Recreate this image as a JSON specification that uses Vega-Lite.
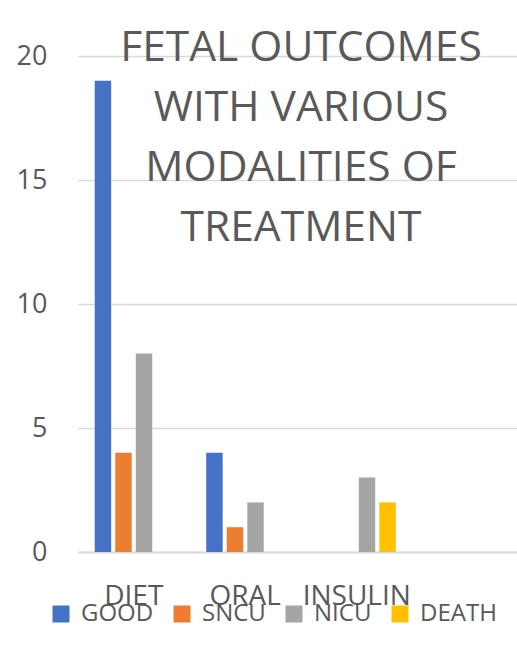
{
  "$schema": "https://vega.github.io/schema/vega-lite/v6.json",
  "width": 446,
  "height": 496,
  "autosize": {"type": "none"},
  "padding": {"left": 78, "top": 56, "right": 0, "bottom": 100},
  "background": "white",
  "title": {
    "text": ["FETAL OUTCOMES", "WITH VARIOUS", "MODALITIES OF", "TREATMENT"],
    "frame": "group",
    "anchor": "middle",
    "baseline": "top",
    "fontSize": 42.5,
    "font": "Open Sans",
    "fontWeight": "normal",
    "color": "#595959",
    "lineHeight": 60,
    "dy": 211
  },
  "data": {
    "values": [
      {"mode": "DIET", "outcome": "GOOD", "n": 19},
      {"mode": "DIET", "outcome": "SNCU", "n": 4},
      {"mode": "DIET", "outcome": "NICU", "n": 8},
      {"mode": "DIET", "outcome": "DEATH", "n": 0},
      {"mode": "ORAL", "outcome": "GOOD", "n": 4},
      {"mode": "ORAL", "outcome": "SNCU", "n": 1},
      {"mode": "ORAL", "outcome": "NICU", "n": 2},
      {"mode": "ORAL", "outcome": "DEATH", "n": 0},
      {"mode": "INSULIN", "outcome": "GOOD", "n": 0},
      {"mode": "INSULIN", "outcome": "SNCU", "n": 0},
      {"mode": "INSULIN", "outcome": "NICU", "n": 3},
      {"mode": "INSULIN", "outcome": "DEATH", "n": 2}
    ]
  },
  "mark": {"type": "bar"},
  "encoding": {
    "x": {
      "field": "mode",
      "type": "nominal",
      "sort": null,
      "scale": {"domain": ["DIET", "ORAL", "INSULIN", " "], "paddingInner": 0.3, "paddingOuter": 0.15},
      "axis": {
        "title": null,
        "labelAngle": 0,
        "ticks": false,
        "domainColor": "#d9d9d9",
        "domainWidth": 2,
        "labelFont": "Open Sans",
        "labelFontSize": 28,
        "labelColor": "#595959",
        "labelPadding": 30
      }
    },
    "xOffset": {
      "field": "outcome",
      "type": "nominal",
      "sort": ["GOOD", "SNCU", "NICU", "DEATH"],
      "scale": {"paddingInner": 0.2, "paddingOuter": 0}
    },
    "y": {
      "field": "n",
      "type": "quantitative",
      "scale": {"domain": [0, 20], "nice": false},
      "axis": {
        "title": null,
        "values": [0, 5, 10, 15, 20],
        "domain": false,
        "ticks": false,
        "gridColor": "#d9d9d9",
        "gridWidth": 1.5,
        "labelFont": "Open Sans",
        "labelFontSize": 27,
        "labelColor": "#595959",
        "labelPadding": 31
      }
    },
    "color": {
      "field": "outcome",
      "type": "nominal",
      "sort": ["GOOD", "SNCU", "NICU", "DEATH"],
      "scale": {"domain": ["GOOD", "SNCU", "NICU", "DEATH"], "range": ["#4472C4", "#ED7D31", "#A5A5A5", "#FFC000"]},
      "legend": {
        "title": null,
        "orient": "none",
        "direction": "horizontal",
        "legendX": -29,
        "legendY": 546,
        "symbolType": "square",
        "symbolSize": 289,
        "symbolStrokeWidth": 0,
        "labelFont": "Open Sans",
        "labelFontSize": 24,
        "labelColor": "#595959",
        "labelOffset": 8,
        "columnPadding": 16
      }
    }
  },
  "config": {"view": {"stroke": null}}
}
